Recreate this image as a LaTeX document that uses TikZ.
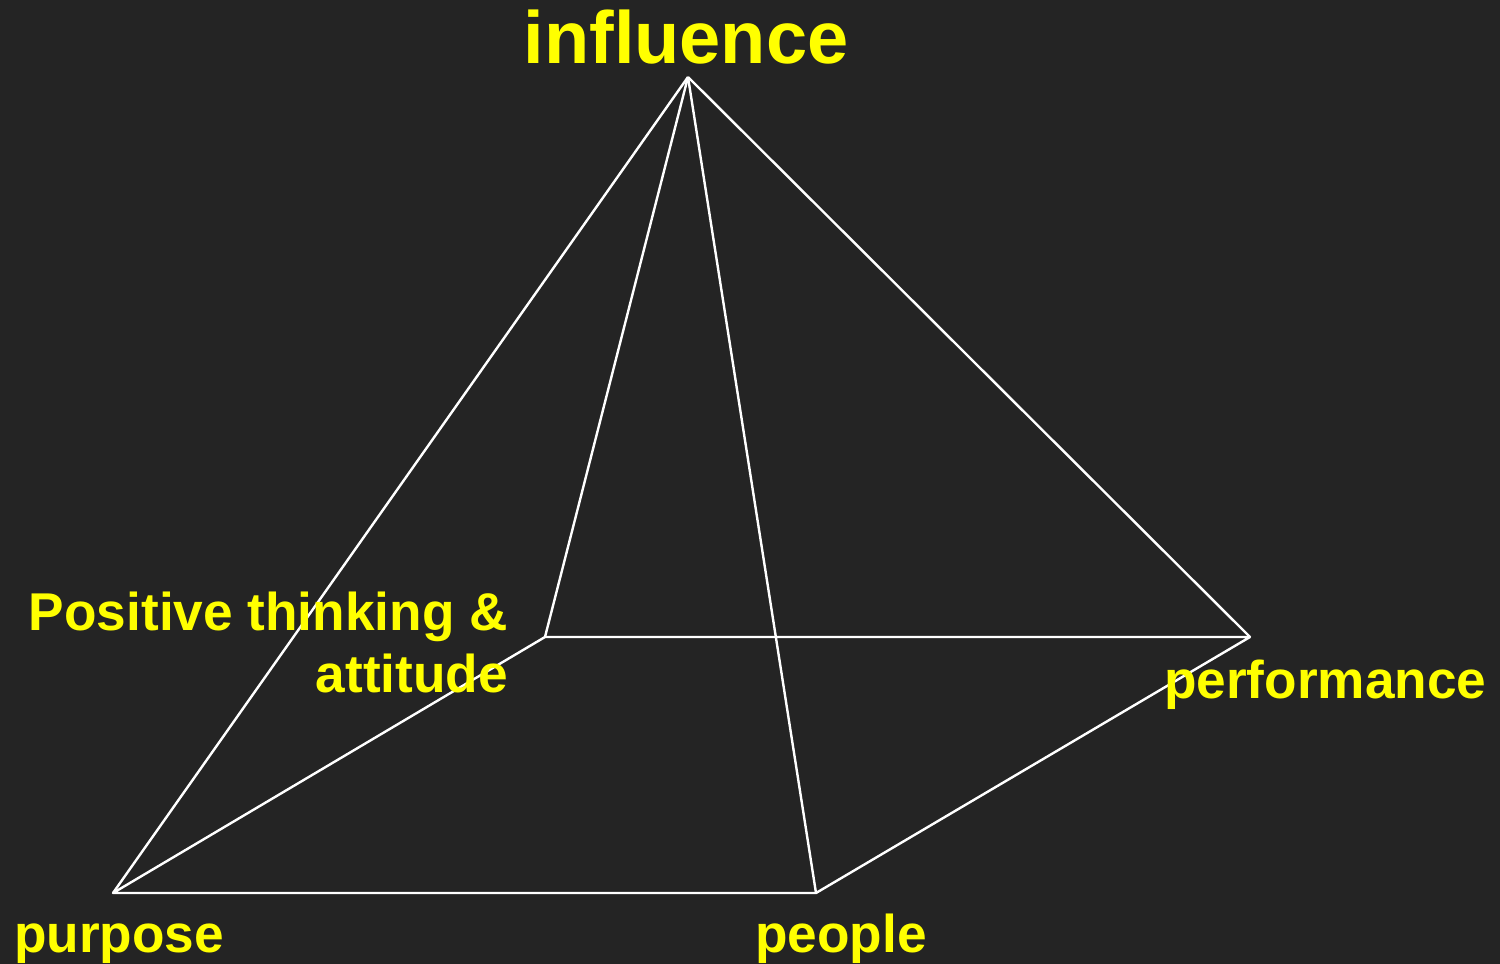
\documentclass[tikz,border=0pt]{standalone}
\usepackage{fontspec}
\setmainfont{Liberation Sans}
\begin{document}
\begin{tikzpicture}[x=1pt,y=-1pt,
  edge/.style={draw=white,line width=2.4pt,line join=round},
  lbl/.style={text=textyellow,font=\fontsize{53.2}{60}\selectfont\bfseries,inner sep=0pt},
  bigl/.style={text=textyellow,font=\fontsize{74}{84}\selectfont\bfseries,inner sep=0pt}]
\definecolor{bg}{HTML}{242424}
\definecolor{textyellow}{HTML}{FFFF00}
\fill[bg] (0,0) rectangle (1500,964);
\useasboundingbox (0,0) rectangle (1500,964);
\coordinate (apex) at (688,77);
\coordinate (bl) at (545,637);
\coordinate (br) at (1250,637);
\coordinate (fl) at (113,893);
\coordinate (fr) at (816,893);
\draw[edge] (fl) -- (fr) -- (br) -- (bl) -- cycle;
\draw[edge] (apex) -- (fl);
\draw[edge] (apex) -- (bl);
\draw[edge] (apex) -- (fr);
\draw[edge] (apex) -- (br);
\node[bigl,anchor=base] (infl) at (686,63) {influence};
\node[lbl,anchor=base east] (pos) at (508,630) {Positive thinking \&};
\node[lbl,anchor=base east] (att) at (508,692) {attitude};
\node[lbl,anchor=base west] (perf) at (1164,698) {performance};
\node[lbl,anchor=base west] (purp) at (14,952) {purpose};
\node[lbl,anchor=base west] (peop) at (755,952) {people};
\end{tikzpicture}
\end{document}
